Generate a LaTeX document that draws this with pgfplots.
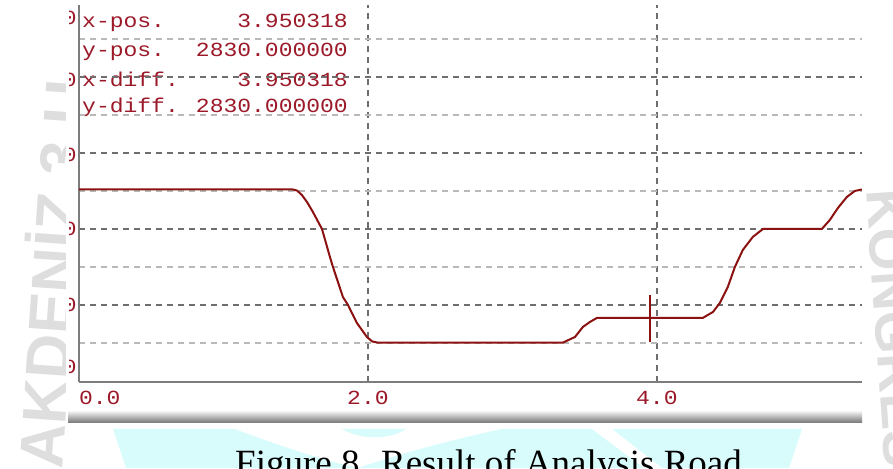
\documentclass[border=0pt]{standalone}
\usepackage{fontspec}
\setmainfont{Liberation Serif}
\newfontfamily\mono{Liberation Mono}[FakeStretch=1.15]
\newfontfamily\wm{Liberation Sans}
\usepackage{pgfplots}
\usepackage{pgfplotstable}
\pgfplotsset{compat=1.18}

\definecolor{curvered}{RGB}{140,18,18}
\definecolor{labelred}{RGB}{155,25,40}
\definecolor{griddark}{RGB}{110,110,110}
\definecolor{gridlight}{RGB}{185,185,185}
\definecolor{axisgray}{RGB}{125,125,125}
\definecolor{wmgray}{RGB}{222,222,222}
\definecolor{wmcyan}{RGB}{216,252,252}

% traced response curve
\pgfplotstableread{
x y
0 4520
1.481 4520
1.510 4505
1.543 4447
1.580 4350
1.619 4224
1.682 4000
1.737 3632
1.758 3500
1.827 3105
1.862 3000
1.924 2763
1.993 2579
2.030 2520
2.069 2505
3.349 2505
3.433 2579
3.488 2711
3.536 2776
3.585 2830
4.318 2830
4.388 2908
4.436 3026
4.491 3237
4.540 3500
4.595 3724
4.664 3895
4.734 4000
5.142 4000
5.197 4118
5.253 4276
5.315 4421
5.370 4500
5.419 4520
}\curve

\begin{document}
\begin{tikzpicture}
\useasboundingbox (0pt,0pt) rectangle (893pt,468pt);
\clip (0pt,0pt) rectangle (893pt,468pt);

\begin{scope}[x=1pt,y=1pt]
% background watermark
\fill[wmcyan] (113,39) -- (802,39) -- (789,0) -- (126,0) -- cycle;
\fill[white] (235,39) .. controls (280,22) and (330,6) .. (358,0)
  .. controls (400,15) and (460,30) .. (501,39) -- cycle;
\fill[wmcyan] (342,39) .. controls (360,28) and (390,28) .. (406,39) -- cycle;
\fill[white] (592,39) -- (612,39) -- (662,0) -- (644,0) -- cycle;
\node[rotate=86, anchor=base west, inner sep=0pt, text=wmgray,
  font=\wm\bfseries\fontsize{62}{62}\selectfont] at (62,-2) {AKDENİZ,3 U};
\node[rotate=-86, anchor=base west, inner sep=0pt, text=wmgray,
  font=\wm\bfseries\fontsize{55}{55}\selectfont] at (866,278) {KONGRESİ};

% screenshot area
\fill[white] (66,42) rectangle (862,468);

% cursor read-out
\begin{scope}[every node/.style={inner sep=0pt, text=labelred,
    font=\mono\fontsize{20}{20}\selectfont}]
\node[anchor=base west] at (82,440) {x-pos.};
\node[anchor=base east] at (348,440) {3.950318};
\node[anchor=base west] at (82,411) {y-pos.};
\node[anchor=base east] at (348,411) {2830.000000};
\node[anchor=base west] at (82,381) {x-diff.};
\node[anchor=base east] at (348,381) {3.950318};
\node[anchor=base west] at (82,355) {y-diff.};
\node[anchor=base east] at (348,355) {2830.000000};
\end{scope}

% clipped y tick labels
\begin{scope}
\clip (69,0) rectangle (76,468);
\foreach \py in {18,80,155,229,305,367}
  \node[anchor=east, inner sep=0pt, text=labelred,
    font=\mono\fontsize{20}{20}\selectfont] at (77,{468-\py}) {0};
\end{scope}

% scroll bar
\shade[top color=black!8, bottom color=black!55] (68,45) rectangle (862,56);
\draw[black!50, line width=1.5pt] (68,45.5) -- (862,45.5);
\end{scope}

\begin{axis}[
  at={(79pt,86pt)}, anchor=south west,
  scale only axis,
  width=783pt, height=377pt,
  xmin=0, xmax=5.42,
  ymin=1987, ymax=6947,
  axis x line*=bottom, axis y line*=left,
  axis line style={draw=axisgray, line width=2pt, -},
  xtick={0,2,4},
  xticklabels={{\makebox[0pt][l]{0.0}},2.0,4.0},
  ytick={3000,4000,5000,6000},
  minor ytick={2500,3500,4500,5500,6500},
  yticklabels={},
  xmajorgrids, ymajorgrids, yminorgrids,
  major grid style={draw=griddark, line width=1.4pt, dash pattern=on 6pt off 5pt},
  minor grid style={draw=gridlight, line width=1.4pt, dash pattern=on 6pt off 5pt},
  major tick length=0pt, minor tick length=0pt,
  xticklabel style={font=\mono\fontsize{20}{20}\selectfont, text=labelred,
    anchor=north, inner sep=0pt, yshift=-9pt},
]
\addplot[curvered, line width=2pt] table {\curve};
\addplot[curvered, line width=2pt] coordinates {(3.950318,2510) (3.950318,3130)};
\end{axis}

\node[anchor=base west, inner sep=0pt, font=\fontsize{37}{40}\selectfont]
  at (235pt,-7pt) {Figure 8. Result of Analysis Road};
\end{tikzpicture}
\end{document}
